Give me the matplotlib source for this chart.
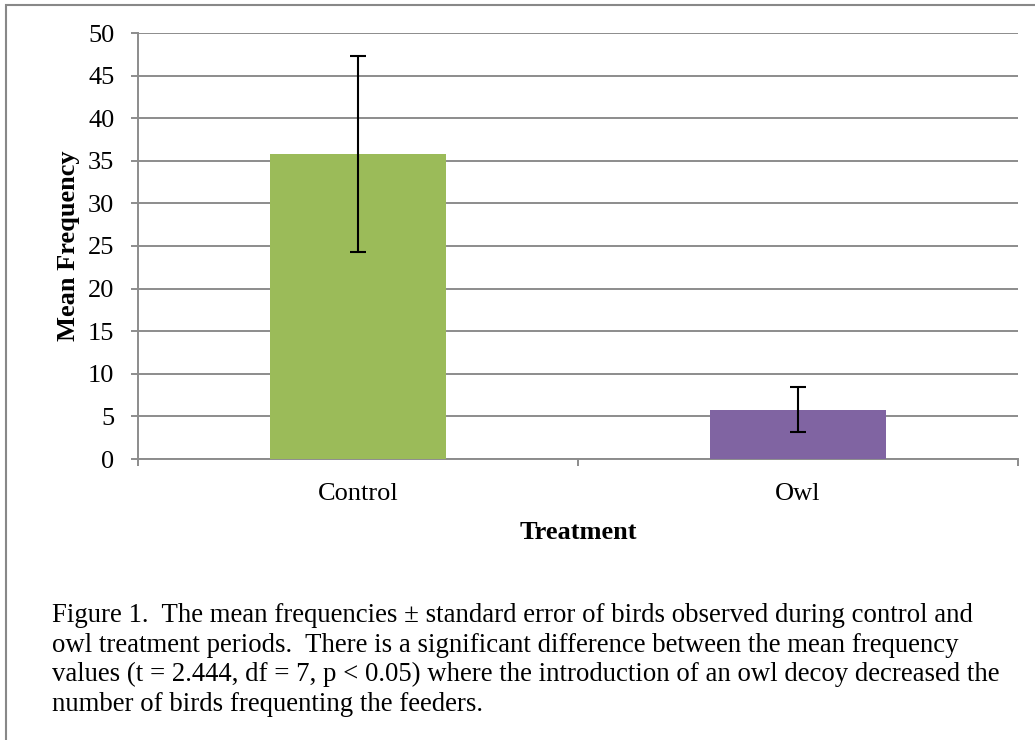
#! /usr/bin/env python3

# Bar chart of mean bird frequency per treatment, with standard error bars

import matplotlib
matplotlib.use('Agg')
import matplotlib.pyplot as plt
import matplotlib.patches as patches
import numpy as np

treatments = ["Control", "Owl"]
mean_freq = [35.8, 5.8]
std_err = [11.5, 2.6]
bar_colors = ["#9BBB59", "#8064A2"]

caption = ("Figure 1.  The mean frequencies \u00b1 standard error of birds observed during control and\n"
           "owl treatment periods.  There is a significant difference between the mean frequency\n"
           "values (t = 2.444, df = 7, p < 0.05) where the introduction of an owl decoy decreased the\n"
           "number of birds frequenting the feeders.")

plt.rcParams['font.family'] = ['Liberation Serif', 'DejaVu Serif']
W, H = 1035, 740
fig = plt.figure(figsize=(W / 100, H / 100), dpi=100)
ax = fig.add_axes([138 / W, 1 - 459 / H, (1018 - 138) / W, (459 - 33) / H])

grid_c = '#8c8c8c'
fs = 19
index = np.arange(len(treatments))
ax.bar(index, mean_freq, width=0.4, color=bar_colors, zorder=3)
ax.errorbar(index, mean_freq, yerr=std_err, fmt='none', ecolor='black',
            elinewidth=1.5, capsize=6, capthick=1.5, zorder=4)

ax.set_xlim(-0.5, 1.5)
ax.set_ylim(0, 50)
ax.set_yticks(np.arange(0, 51, 5))
ax.yaxis.grid(True, color=grid_c, linewidth=1.4, zorder=0)
ax.set_axisbelow(True)

# category labels between boundary ticks
ax.set_xticks([-0.5, 0.5, 1.5])
ax.set_xticklabels([])
ax.set_xticks(index, minor=True)
ax.set_xticklabels(treatments, minor=True)
ax.tick_params(axis='x', which='minor', length=0, pad=17, labelsize=fs)
ax.tick_params(axis='x', which='major', length=5, width=1.4, color=grid_c)
ax.tick_params(axis='y', length=5, width=1.4, color=grid_c, pad=12, labelsize=fs)

for s in ['top', 'right']:
    ax.spines[s].set_visible(False)
for s in ['left', 'bottom']:
    ax.spines[s].set_color(grid_c)
    ax.spines[s].set_linewidth(1.4)

ax.set_ylabel("Mean Frequency", fontsize=fs, fontweight='bold', labelpad=6)
ax.set_xlabel("Treatment", fontsize=fs, fontweight='bold', labelpad=12)

fig.text(52 / W, 1 - 603 / H, caption, fontsize=19.3, va='top', ha='left',
         linespacing=1.24)

# outer frame
frame = patches.Rectangle((6 / W, -0.1), 1.2, 1 - 5 / H + 0.1, transform=fig.transFigure,
                          fill=False, edgecolor='#888888', linewidth=1.5)
fig.patches.append(frame)

plt.savefig('out.png', dpi=100)
